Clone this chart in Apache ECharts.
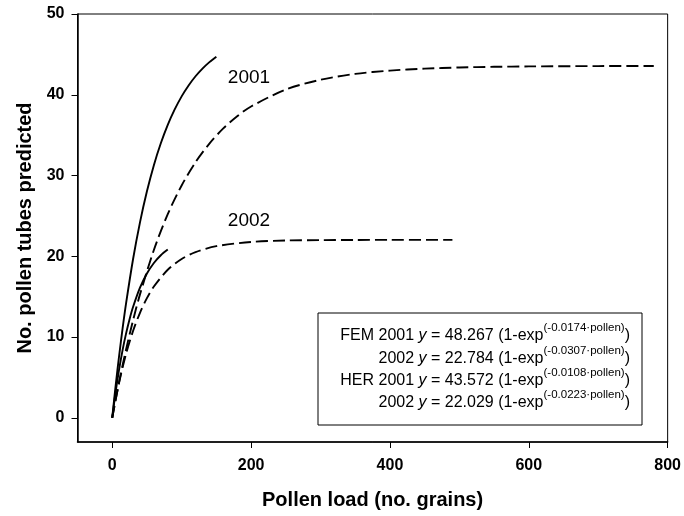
<!DOCTYPE html>
<html>
<head>
<meta charset="utf-8">
<script src="https://cdn.jsdelivr.net/npm/echarts@6/dist/echarts.min.js"></script>
<style>
html,body{margin:0;padding:0;background:#fff;}
#main{width:684px;height:516px;}
</style>
</head>
<body>
<div id="main"></div>
<script>
// ---- data ----
var xTicks = [0, 200, 400, 600, 800];
var yTicks = [0, 10, 20, 30, 40, 50];

var fem2001X = [0, 5, 10, 15, 20, 30, 40, 50, 60, 70, 80, 90, 100, 110, 120, 130, 140, 150];
var fem2001Y = [0, 4.02, 7.71, 11.09, 14.19, 19.63, 24.20, 28.04, 31.28, 33.99, 36.27, 38.18, 39.80, 41.15, 42.29, 43.24, 44.04, 44.72];

var fem2002X = [0, 5, 10, 15, 20, 25, 30, 40, 50, 60, 70, 80];
var fem2002Y = [0, 3.24, 6.02, 8.41, 10.45, 12.21, 13.71, 16.11, 17.87, 19.17, 20.13, 20.83];

var her2001X = [0, 10, 20, 30, 40, 60, 80, 100, 120, 140, 160, 180, 200, 250, 300, 350, 400, 450, 500, 550, 600, 700, 780];
var her2001Y = [0, 4.46, 8.47, 12.06, 15.28, 20.78, 25.21, 28.77, 31.65, 33.96, 35.83, 37.34, 38.55, 40.64, 41.86, 42.58, 42.99, 43.23, 43.38, 43.46, 43.51, 43.55, 43.56];

var her2002X = [0, 10, 20, 30, 40, 50, 60, 80, 100, 120, 150, 200, 250, 300, 350, 400, 490];
var her2002Y = [0, 4.40, 7.93, 10.75, 13.00, 14.81, 16.25, 18.33, 19.66, 20.51, 21.25, 21.77, 21.95, 22.00, 22.02, 22.03, 22.03];

var legendLines = [
  ['FEM 2001', '48.267', '-0.0174'],
  ['2002', '22.784', '-0.0307'],
  ['HER 2001', '43.572', '-0.0108'],
  ['2002', '22.029', '-0.0223']
];
var yearLabels = [['2001', 249, 78], ['2002', 249, 221]];

function pairs(xs, ys) { return xs.map(function (x, i) { return [x, ys[i]]; }); }

var FONT = 'Liberation Sans, Arial, Helvetica, sans-serif';
var chart = echarts.init(document.getElementById('main'), null, {renderer: 'canvas'});

function lineSeries(name, data, dashed) {
  return {
    name: name, type: 'line', data: data, smooth: 0.3,
    showSymbol: false, symbol: 'none', silent: true,
    lineStyle: {color: '#000', width: 1.9, type: dashed ? [12, 5] : 'solid'}
  };
}

var graphics = [];
graphics.push({
  type: 'rect', shape: {x: 318, y: 313, width: 324, height: 112},
  style: {fill: '#fff', stroke: '#000', lineWidth: 1}, z: 100
});
var lineYs = [336, 358.5, 381, 403];
legendLines.forEach(function (l, i) {
  graphics.push({
    type: 'text', x: 630, y: lineYs[i], z: 101,
    style: {
      text: l[0] + ' {i|y} = ' + l[1] + ' (1-exp{s|(' + l[2] + '·pollen)})',
      align: 'right', verticalAlign: 'middle',
      font: '16px ' + FONT, fill: '#000', lineHeight: 28,
      rich: {
        i: {fontStyle: 'italic', fontSize: 16, fontFamily: FONT, lineHeight: 28},
        s: {fontSize: 11.5, fontFamily: FONT, verticalAlign: 'top', lineHeight: 9}
      }
    }
  });
});
yearLabels.forEach(function (t) {
  graphics.push({
    type: 'text', x: t[1], y: t[2], z: 50,
    style: {text: t[0], align: 'center', verticalAlign: 'middle', font: '19px ' + FONT, fill: '#000'}
  });
});

chart.setOption({
  animation: false,
  backgroundColor: '#fff',
  grid: {left: 77.5, right: 14.5, top: 14, bottom: 74, show: true, borderColor: '#000', borderWidth: 1},
  xAxis: {
    type: 'value', min: -50, max: 800,
    name: 'Pollen load (no. grains)', nameLocation: 'middle', nameGap: 48,
    nameTextStyle: {fontFamily: FONT, fontWeight: 'bold', fontSize: 20, color: '#000'},
    axisLine: {show: true, onZero: false, lineStyle: {color: '#000', width: 1.5}},
    axisTick: {show: true, inside: false, length: 6, customValues: xTicks, lineStyle: {color: '#000', width: 1}},
    axisLabel: {customValues: xTicks, margin: 16, fontFamily: FONT, fontWeight: 'bold', fontSize: 16, color: '#000'},
    splitLine: {show: false}
  },
  yAxis: {
    type: 'value', min: -3, max: 50,
    name: 'No. pollen tubes predicted', nameLocation: 'middle', nameGap: 40,
    nameTextStyle: {fontFamily: FONT, fontWeight: 'bold', fontSize: 20, color: '#000'},
    axisLine: {show: true, onZero: false, lineStyle: {color: '#000', width: 1.5}},
    axisTick: {show: true, inside: false, length: 6, customValues: yTicks, lineStyle: {color: '#000', width: 1}},
    axisLabel: {customValues: yTicks, margin: 13, fontFamily: FONT, fontWeight: 'bold', fontSize: 16, color: '#000'},
    splitLine: {show: false}
  },
  series: [
    lineSeries('FEM 2001', pairs(fem2001X, fem2001Y), false),
    lineSeries('FEM 2002', pairs(fem2002X, fem2002Y), false),
    lineSeries('HER 2001', pairs(her2001X, her2001Y), true),
    lineSeries('HER 2002', pairs(her2002X, her2002Y), true)
  ],
  graphic: graphics
});
</script>
</body>
</html>
